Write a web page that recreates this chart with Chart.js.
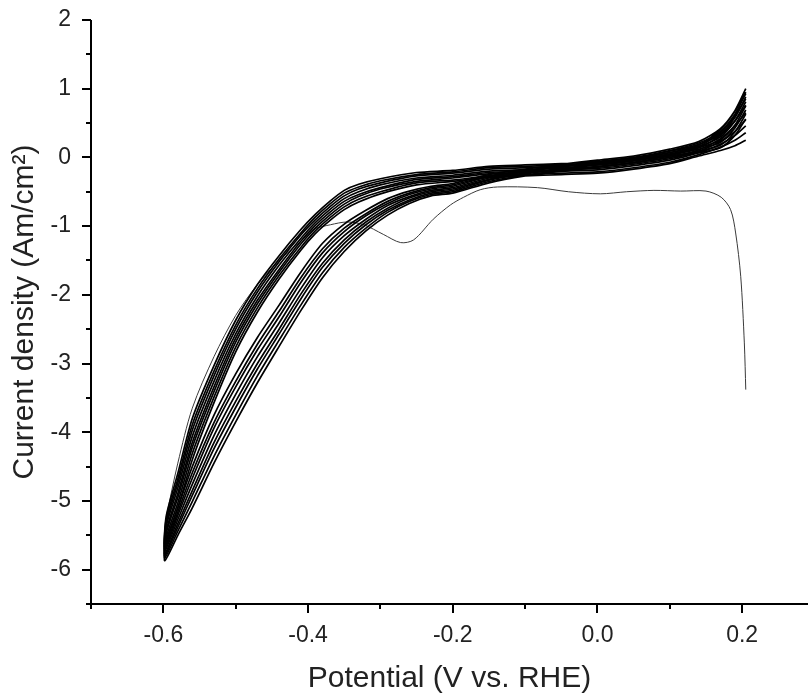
<!DOCTYPE html>
<html>
<head>
<meta charset="utf-8">
<script src="https://cdn.jsdelivr.net/npm/chart.js@4/dist/chart.umd.min.js"></script>
<style>
  html, body { margin: 0; padding: 0; background: #fff; }
  #wrap { width: 808px; height: 697px; }
</style>
</head>
<body>
<div id="wrap"><canvas id="cv" width="808" height="697"></canvas></div>
<script>
// potential steps of one sweep: 0.2 V -> -0.6 V (cathodic) then back to 0.2 V
const scanPotential = [
  0.205, 0.19, 0.17, 0.14, 0.10, 0.05, 0.0, -0.05, -0.10, -0.15, -0.20, -0.25, -0.30,
  -0.33, -0.35, -0.37, -0.39, -0.41, -0.44, -0.47, -0.50, -0.53, -0.56, -0.58, -0.596,
  -0.598, -0.58, -0.56, -0.53, -0.50, -0.47, -0.44, -0.41, -0.38, -0.35, -0.32, -0.29,
  -0.26, -0.23, -0.20, -0.15, -0.10, -0.05, 0.0, 0.05, 0.10, 0.14, 0.17, 0.19, 0.205
];

// current density of each cycle (A/cm2)
const cycle2 = [0.95, 0.67, 0.40, 0.18, 0.07, -0.01, -0.07, -0.09, -0.11, -0.13, -0.19, -0.22, -0.31, -0.39, -0.48, -0.64, -0.83, -1.05, -1.43, -1.85, -2.37, -3.03, -3.80, -4.60, -5.22,
  -5.63, -5.10, -4.50, -3.75, -3.15, -2.62, -2.15, -1.67, -1.25, -0.97, -0.77, -0.60, -0.49, -0.42, -0.38, -0.25, -0.17, -0.10, -0.04, 0.02, 0.12, 0.23, 0.42, 0.68, 1.00];
const cycle3 = [0.85, 0.60, 0.36, 0.16, 0.05, -0.03, -0.09, -0.11, -0.13, -0.15, -0.21, -0.25, -0.34, -0.43, -0.52, -0.68, -0.87, -1.10, -1.48, -1.91, -2.44, -3.11, -3.89, -4.68, -5.27,
  -5.67, -5.16, -4.59, -3.86, -3.26, -2.72, -2.24, -1.75, -1.33, -1.03, -0.82, -0.64, -0.52, -0.44, -0.40, -0.27, -0.19, -0.12, -0.06, 0.00, 0.10, 0.21, 0.38, 0.63, 0.93];
const cycle4 = [0.76, 0.53, 0.32, 0.14, 0.03, -0.05, -0.11, -0.13, -0.15, -0.17, -0.23, -0.27, -0.37, -0.46, -0.56, -0.72, -0.91, -1.13, -1.52, -1.96, -2.50, -3.18, -3.97, -4.74, -5.32,
  -5.70, -5.21, -4.67, -3.94, -3.34, -2.80, -2.32, -1.82, -1.39, -1.08, -0.85, -0.67, -0.54, -0.46, -0.42, -0.28, -0.20, -0.13, -0.07, -0.01, 0.09, 0.19, 0.34, 0.58, 0.88];
const cycle5 = [0.65, 0.46, 0.27, 0.11, 0.00, -0.08, -0.14, -0.16, -0.18, -0.20, -0.26, -0.30, -0.40, -0.50, -0.60, -0.76, -0.95, -1.18, -1.57, -2.02, -2.57, -3.26, -4.06, -4.81, -5.37,
  -5.73, -5.27, -4.76, -4.05, -3.45, -2.90, -2.41, -1.91, -1.46, -1.14, -0.90, -0.70, -0.57, -0.48, -0.44, -0.30, -0.21, -0.14, -0.08, -0.02, 0.07, 0.16, 0.30, 0.53, 0.81];
const cycle6 = [0.55, 0.38, 0.23, 0.09, -0.02, -0.10, -0.16, -0.18, -0.20, -0.22, -0.28, -0.32, -0.44, -0.54, -0.64, -0.80, -0.99, -1.22, -1.63, -2.08, -2.63, -3.34, -4.15, -4.89, -5.43,
  -5.77, -5.33, -4.85, -4.15, -3.55, -3.00, -2.50, -1.99, -1.54, -1.20, -0.94, -0.74, -0.59, -0.50, -0.46, -0.32, -0.23, -0.16, -0.10, -0.04, 0.05, 0.14, 0.26, 0.47, 0.75];
const cycle7 = [0.46, 0.32, 0.19, 0.07, -0.04, -0.12, -0.18, -0.20, -0.22, -0.24, -0.30, -0.35, -0.46, -0.57, -0.68, -0.84, -1.03, -1.26, -1.67, -2.13, -2.69, -3.41, -4.22, -4.95, -5.47,
  -5.80, -5.38, -4.92, -4.24, -3.64, -3.08, -2.57, -2.06, -1.60, -1.25, -0.98, -0.77, -0.62, -0.52, -0.48, -0.33, -0.24, -0.17, -0.11, -0.05, 0.04, 0.12, 0.22, 0.43, 0.69];
const cycle8 = [0.36, 0.25, 0.15, 0.04, -0.07, -0.15, -0.21, -0.23, -0.25, -0.27, -0.33, -0.37, -0.50, -0.61, -0.72, -0.88, -1.07, -1.31, -1.72, -2.19, -2.76, -3.49, -4.31, -5.03, -5.53,
  -5.83, -5.44, -5.01, -4.35, -3.75, -3.18, -2.66, -2.15, -1.68, -1.31, -1.03, -0.80, -0.64, -0.54, -0.50, -0.35, -0.26, -0.19, -0.13, -0.07, 0.02, 0.09, 0.18, 0.37, 0.63];
const cycle9 = [0.25, 0.17, 0.10, 0.02, -0.09, -0.17, -0.23, -0.25, -0.27, -0.29, -0.35, -0.40, -0.53, -0.65, -0.76, -0.92, -1.11, -1.35, -1.77, -2.25, -2.83, -3.57, -4.40, -5.10, -5.58,
  -5.87, -5.50, -5.10, -4.45, -3.85, -3.28, -2.75, -2.23, -1.75, -1.37, -1.07, -0.84, -0.67, -0.56, -0.52, -0.37, -0.27, -0.20, -0.14, -0.08, 0.00, 0.07, 0.14, 0.32, 0.56];

// first (conditioning) sweep, starting at 0.205 V
const firstPotential = [0.205, 0.203, 0.198, 0.191, 0.184, 0.171, 0.15, 0.115, 0.078, 0.04, 0.004, -0.04, -0.083, -0.138, -0.162, -0.185, -0.203,
  -0.227, -0.254, -0.272, -0.296, -0.323, -0.346, -0.369, -0.393, -0.41, -0.44, -0.47, -0.50, -0.53, -0.56, -0.58, -0.596];
const firstCurrent = [-3.38, -2.7, -1.73, -1.1, -0.76, -0.58, -0.49, -0.49, -0.48, -0.5, -0.53, -0.5, -0.44, -0.43, -0.47, -0.58, -0.69,
  -0.9, -1.2, -1.24, -1.12, -0.98, -0.94, -0.98, -1.05, -1.22, -1.5, -1.85, -2.3, -2.9, -3.65, -4.45, -5.23];

const xLabelTicks = [-0.6, -0.4, -0.2, 0.0, 0.2];
const xMinorTicks = [-0.7, -0.5, -0.3, -0.1, 0.1];
const yLabelTicks = [2, 1, 0, -1, -2, -3, -4, -5, -6];
const yMinorTicks = [1.5, 0.5, -0.5, -1.5, -2.5, -3.5, -4.5, -5.5, -6.5];

const font = "'Liberation Sans', Arial, sans-serif";
const textColor = '#222';

const cycles = [cycle2, cycle3, cycle4, cycle5, cycle6, cycle7, cycle8, cycle9];
const datasets = cycles.map((c, i) => ({
  label: 'cycle ' + (i + 2),
  data: c.map((v, j) => ({ x: scanPotential[j], y: v })),
  borderColor: '#000',
  borderWidth: 1.7,
  pointRadius: 0,
  showLine: true,
  tension: 0.25
}));
datasets.push({
  label: 'cycle 1',
  data: firstCurrent.map((v, j) => ({ x: firstPotential[j], y: v })),
  borderColor: '#3a3a3a',
  borderWidth: 1,
  pointRadius: 0,
  showLine: true,
  tension: 0.3
});

// draws Origin-style axis lines with major and minor outward ticks
const axesPlugin = {
  id: 'axesPlugin',
  afterDraw(chart) {
    const { ctx, chartArea: a, scales: { x, y } } = chart;
    ctx.save();
    ctx.strokeStyle = '#000';
    ctx.lineWidth = 2;
    ctx.beginPath();
    ctx.moveTo(a.left, a.top);
    ctx.lineTo(a.left, a.bottom);
    ctx.lineTo(a.right, a.bottom);
    ctx.stroke();
    ctx.beginPath();
    xLabelTicks.forEach(v => { const px = Math.round(x.getPixelForValue(v)); ctx.moveTo(px, a.bottom); ctx.lineTo(px, a.bottom + 9); });
    xMinorTicks.forEach(v => { const px = Math.round(x.getPixelForValue(v)); ctx.moveTo(px, a.bottom); ctx.lineTo(px, a.bottom + 5); });
    yLabelTicks.forEach(v => { const py = Math.round(y.getPixelForValue(v)); ctx.moveTo(a.left, py); ctx.lineTo(a.left - 9, py); });
    yMinorTicks.forEach(v => { const py = Math.round(y.getPixelForValue(v)); ctx.moveTo(a.left, py); ctx.lineTo(a.left - 5, py); });
    ctx.stroke();
    ctx.restore();
  }
};

new Chart('cv', {
  type: 'scatter',
  data: { datasets: datasets },
  plugins: [axesPlugin],
  options: {
    responsive: false,
    animation: false,
    layout: { padding: { top: 20, right: 0, bottom: 0, left: 0 } },
    plugins: { legend: { display: false }, tooltip: { enabled: false } },
    scales: {
      x: {
        type: 'linear',
        min: -0.7,
        max: 0.291,
        border: { display: false },
        grid: { display: false, drawTicks: true, tickLength: 18 },
        afterBuildTicks: s => { s.ticks = xLabelTicks.map(v => ({ value: v })); },
        afterFit: s => { s.height = 93; },
        ticks: {
          padding: 0,
          color: textColor,
          font: { family: font, size: 23 },
          maxRotation: 0,
          autoSkip: false,
          callback: v => v.toFixed(1)
        },
        title: {
          display: true,
          text: 'Potential (V vs. RHE)',
          color: textColor,
          font: { family: font, size: 30 },
          padding: { top: 0, bottom: 0 }
        }
      },
      y: {
        type: 'linear',
        min: -6.5,
        max: 2,
        border: { display: false },
        grid: { display: false, drawTicks: true, tickLength: 20 },
        afterBuildTicks: s => { s.ticks = yLabelTicks.map(v => ({ value: v })); },
        afterFit: s => { s.width = 91; },
        ticks: {
          padding: 0,
          color: textColor,
          font: { family: font, size: 23 },
          autoSkip: false,
          callback: v => String(v)
        },
        title: {
          display: true,
          text: 'Current density (Am/cm²)',
          color: textColor,
          font: { family: font, size: 30 },
          padding: { top: 7, bottom: 0 }
        }
      }
    }
  }
});
</script>
</body>
</html>
